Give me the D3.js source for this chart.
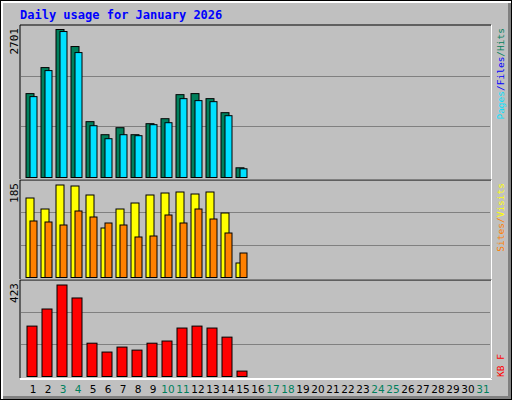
<!DOCTYPE html>
<html><head><meta charset="utf-8">
<script src="https://cdn.jsdelivr.net/npm/d3@7"></script>
<style>body{margin:0;background:#fff}</style>
</head><body>
<div id="chart"></div>
<script>
let days = d3.range(1, 32)
let weekendDays = [3, 4, 10, 11, 17, 18, 24, 25, 31]
let hits = [1531, 2006, 2701, 2390, 1019, 781, 909, 781, 982, 1073, 1512, 1531, 1439, 1183, 177]
let pages = [1476, 1951, 2664, 2280, 945, 708, 781, 763, 964, 1000, 1439, 1403, 1384, 1128, 159]
let visits = [159, 137, 185, 183, 165, 99, 137, 149, 165, 169, 171, 167, 171, 129, 29]
let sites = [113, 111, 105, 133, 121, 109, 105, 81, 83, 125, 109, 137, 117, 89, 49]
let kbytes = [233, 312, 423, 363, 154, 113, 136, 122, 154, 164, 224, 233, 224, 182, 25]

let width = 512, height = 400

const svg = d3.select('#chart').append('svg')
	.attr('width', width).attr('height', height)
	.style('font-family', 'DejaVu Sans Mono, monospace')

// frame
svg.append('rect').attr('width', width).attr('height', height).attr('fill', '#000')
svg.append('rect').attr('x', 1).attr('y', 1).attr('width', width - 2).attr('height', height - 2).attr('fill', '#fff')
svg.append('rect').attr('x', 3).attr('y', 3).attr('width', width - 4).attr('height', height - 4).attr('fill', '#808080')
svg.append('rect').attr('x', 3).attr('y', 3).attr('width', width - 7).attr('height', height - 7).attr('fill', '#C0C0C0')

svg.append('text').attr('x', 20).attr('y', 19)
	.attr('fill', '#0000FF').attr('font-size', 12).attr('font-weight', 'bold')
	.text('Daily usage for January 2026')

let x = d3.scaleBand().domain(days).range([25.5, 25.5 + 15 * 31]).padding(0)

let panels = [
	{top: 25, bottom: 179, base: 177, max: 2701, h: 148, legendAtTop: true,
		series: [{data: hits, color: '#00805C', dx: 0, w: 8}, {data: pages, color: '#00E0FF', dx: 4, w: 7}],
		legend: [['Pages', '#00E0FF'], ['/', '#0000FF'], ['Files', '#0000FF'], ['/', '#00805C'], ['Hits', '#00805C']]},
	{top: 180, bottom: 279, base: 277, max: 185, h: 92.5, legendAtTop: true,
		series: [{data: visits, color: '#FFFF00', dx: 0, w: 8}, {data: sites, color: '#FF8000', dx: 4, w: 7}],
		legend: [['Sites', '#FF8000'], ['/', '#FF8000'], ['Visits', '#FFFF00']]},
	{top: 280, bottom: 378, base: 376, max: 423, h: 91.5, legendAtTop: false,
		series: [{data: kbytes, color: '#FF0000', dx: 1, w: 10}],
		legend: [['KB F', '#FF0000']]}
]

panels.forEach(function(p){
	let y = d3.scaleLinear().domain([0, p.max]).range([p.base, p.base - p.h])
	let g = svg.append('g')
	// inset box
	g.append('line').attr('x1', 20).attr('x2', 491).attr('y1', p.top).attr('y2', p.top).attr('stroke', '#000')
	g.append('line').attr('x1', 20).attr('x2', 20).attr('y1', p.top).attr('y2', p.bottom).attr('stroke', '#000')
	g.append('line').attr('x1', 20).attr('x2', 491).attr('y1', p.bottom + 0.5).attr('y2', p.bottom + 0.5).attr('stroke', '#fff')
	g.append('line').attr('x1', 491.5).attr('x2', 491.5).attr('y1', p.top).attr('y2', p.bottom).attr('stroke', '#fff')
	// grid at thirds
	;[1, 2].forEach(function(k){
		let gy = Math.round(p.base - (p.base - p.top) * k / 3) + 0.5
		g.append('line').attr('x1', 21).attr('x2', 490).attr('y1', gy).attr('y2', gy).attr('stroke', '#808080')
	})
	p.series.forEach(function(s){
		g.selectAll(null).data(s.data).enter().append('rect')
			.attr('x', (d, i) => x(days[i]) + s.dx + 0.5)
			.attr('y', d => y(d) + 0.5)
			.attr('width', s.w)
			.attr('height', d => y(0) - y(d))
			.attr('fill', s.color).attr('stroke', '#000')
	})
	g.append('text')
		.attr('transform', `translate(18,${p.top + 3}) rotate(-90)`)
		.attr('text-anchor', 'end').attr('font-size', 11).attr('fill', '#000')
		.text(p.max)
	let leg = g.append('text')
		.attr('transform', p.legendAtTop
			? `translate(504,${p.top + 3}) rotate(-90)`
			: `translate(504,${p.bottom - 1}) rotate(-90)`)
		.attr('text-anchor', p.legendAtTop ? 'end' : 'start')
		.attr('font-size', 9.5)
	p.legend.forEach(function(l){
		leg.append('tspan').attr('fill', l[1]).text(l[0])
	})
})

svg.append('line').attr('x1', 20).attr('x2', 492).attr('y1', 379.5).attr('y2', 379.5).attr('stroke', '#fff')

svg.selectAll('.day').data(days).enter().append('text')
	.attr('x', d => x(d) + 7.5).attr('y', 393)
	.attr('text-anchor', 'middle')
	.attr('font-family', 'DejaVu Sans, sans-serif').attr('font-size', 10.5)
	.attr('fill', d => weekendDays.includes(d) ? '#00805C' : '#000')
	.text(d => d)
</script>
</body></html>
